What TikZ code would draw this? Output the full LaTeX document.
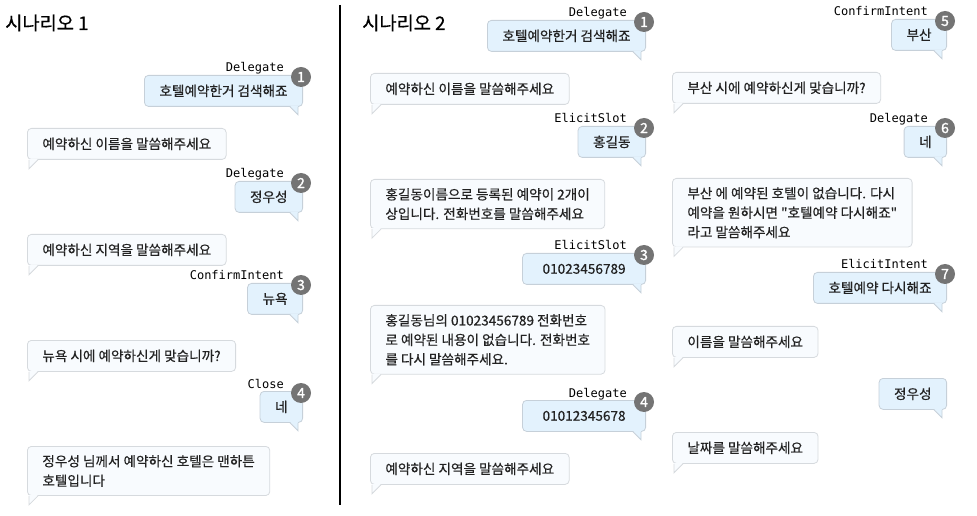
\documentclass[tikz,border=0pt]{standalone}
\usepackage{fontspec}
\newfontfamily\krfont{Noto Sans CJK KR}[FakeBold=0.5]
\newfontfamily\numfont{Noto Sans CJK KR}[FakeBold=1.5]
\setmonofont{DejaVu Sans Mono}
\usetikzlibrary{calc}

\definecolor{userfill}{HTML}{E3F2FD}
\definecolor{userline}{HTML}{C6D0D9}
\definecolor{botfill}{HTML}{F8FBFE}
\definecolor{botline}{HTML}{D6DADE}
\definecolor{badgegray}{HTML}{747474}
\definecolor{chattext}{HTML}{222222}

\begin{document}
\begin{tikzpicture}[
  x=0.75pt, y=-0.75pt,
  font=\krfont\fontsize{10.2}{14.6}\selectfont, text=chattext,
  user/.style={draw=userline, fill=userfill, line width=0.6pt, rounded corners=3pt,
    align=left, inner xsep=11.25pt, inner ysep=6.5pt, minimum height=23.25pt, anchor=north east},
  bot/.style={user, draw=botline, fill=botfill, anchor=north west},
  tag/.style={font=\ttfamily\fontsize{9}{10}\selectfont, text=black, inner sep=0pt, anchor=base east},
  badge/.style={circle, fill=badgegray, text=white, inner sep=0pt, minimum size=15pt,
    font=\numfont\fontsize{10.5}{12}\selectfont},
  title/.style={font=\krfont\fontsize{14}{16}\selectfont, text=black, inner sep=0pt, anchor=west}
]
  \useasboundingbox (0,0) rectangle (977,516);

  % titles and divider
  \node[title] (t1) at (5,23) {시나리오 1};
  \node[title] (t2) at (362,23) {시나리오 2};
  \coordinate (divtop) at (340,5);
  \coordinate (divbot) at (340,505);
  \draw[line width=1.5pt] (divtop) -- (divbot);

  % scenario 1
  \node[user] (a1) at (303,75) {호텔예약한거 검색해죠};
  \node[bot] (a2) at (27,128) {예약하신 이름을 말씀해주세요};
  \node[user] (a3) at (303,181) {정우성};
  \node[bot] (a4) at (27,234) {예약하신 지역을 말씀해주세요};
  \node[user] (a5) at (303,283) {뉴욕};
  \node[bot] (a6) at (27,340) {뉴욕 시에 예약하신게 맞습니까?};
  \node[user] (a7) at (303,391) {네};
  \node[bot] (a8) at (27,446) {정우성 님께서 예약하신 호텔은 맨하튼\\호텔입니다};

  % scenario 2, left column
  \node[user] (b1) at (646,20) {호텔예약한거 검색해죠};
  \node[bot] (b2) at (370,73) {예약하신 이름을 말씀해주세요};
  \node[user] (b3) at (646,126) {홍길동};
  \node[bot] (b4) at (370,179) {홍길동이름으로 등록된 예약이 2개이\\상입니다. 전화번호를 말씀해주세요};
  \node[user, inner xsep=15pt] (b5) at (646,253) {01023456789};
  \node[bot] (b6) at (370,305) {홍길동님의 01023456789 전화번호\\로 예약된 내용이 없습니다. 전화번호\\를 다시 말씀해주세요.};
  \node[user, inner xsep=15pt] (b7) at (646,400) {01012345678};
  \node[bot] (b8) at (370,453) {예약하신 지역을 말씀해주세요};

  % scenario 2, right column
  \node[user] (c1) at (947,19) {부산};
  \node[bot] (c2) at (672,72) {부산 시에 예약하신게 맞습니까?};
  \node[user] (c3) at (947,126) {네};
  \node[bot] (c4) at (672,178) {부산 에 예약된 호텔이 없습니다. 다시\\예약을 원하시면 "호텔예약 다시해죠"\\라고 말씀해주세요};
  \node[user] (c5) at (947,272) {호텔예약 다시해죠};
  \node[bot] (c6) at (672,326) {이름을 말씀해주세요};
  \node[user] (c7) at (947,378) {정우성};
  \node[bot] (c8) at (672,432) {날짜를 말씀해주세요};

  % bubble tails
  \foreach \n in {a1,a3,a5,a7,b1,b3,b5,b7,c1,c3,c5,c7} {
    \fill[userfill] ($(\n.south east)+(-13,-1)$) -- ($(\n.south east)+(-5,8)$)
      -- ($(\n.south east)+(-5,-1)$) -- cycle;
    \draw[userline, line width=0.6pt] ($(\n.south east)+(-13,0)$)
      -- ($(\n.south east)+(-5,8)$) -- ($(\n.south east)+(-5,0)$);
  }
  \foreach \n in {a2,a4,a6,a8,b2,b4,b6,b8,c2,c4,c6,c8} {
    \fill[botfill] ($(\n.south west)+(2,-1)$) -- ($(\n.south west)+(2,9)$)
      -- ($(\n.south west)+(11,-1)$) -- cycle;
    \draw[botline, line width=0.6pt] ($(\n.south west)+(2,0)$)
      -- ($(\n.south west)+(2,9)$) -- ($(\n.south west)+(11,0)$);
  }

  % intent tags and step numbers
  \foreach \n/\t/\k in {a1/Delegate/1, a3/Delegate/2, a5/ConfirmIntent/3, a7/Close/4,
      b1/Delegate/1, b3/ElicitSlot/2, b5/ElicitSlot/3, b7/Delegate/4,
      c1/ConfirmIntent/5, c3/Delegate/6, c5/ElicitIntent/7} {
    \node[tag] (\n-tag) at ($(\n.north east)+(-19,-3)$) {\t};
    \node[badge] (\n-num) at ($(\n.north east)+(-2,2)$) {\k};
  }
\end{tikzpicture}
\end{document}
